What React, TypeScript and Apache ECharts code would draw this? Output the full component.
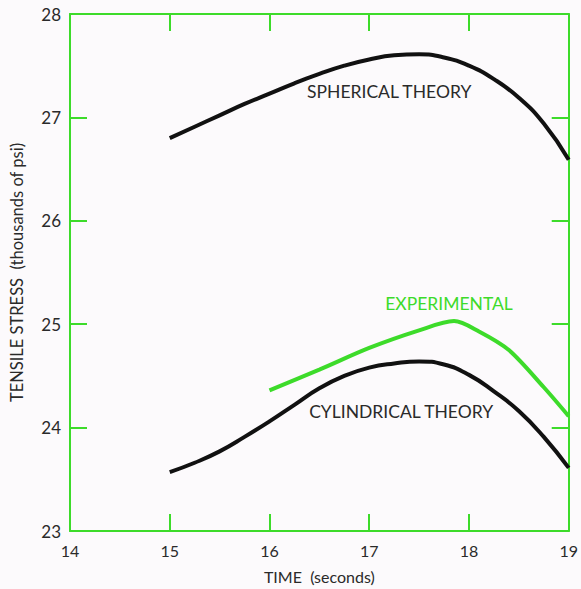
import React, { useEffect, useRef } from "react";
import * as echarts from "echarts";

const timeSpherical = [15, 15.25, 15.5, 15.75, 16, 16.25, 16.5, 16.75, 17, 17.25, 17.5, 17.75, 18, 18.25, 18.5, 18.75, 19];
const spherical = [26.8, 26.91, 27.02, 27.13, 27.23, 27.33, 27.42, 27.5, 27.56, 27.6, 27.61, 27.58, 27.5, 27.37, 27.19, 26.94, 26.59];
const cylindrical = [23.57, 23.66, 23.77, 23.91, 24.06, 24.22, 24.38, 24.5, 24.58, 24.62, 24.64, 24.61, 24.51, 24.35, 24.16, 23.91, 23.61];
const timeExperimental = [16, 16.5, 17, 17.5, 17.85, 18.1, 18.4, 18.75, 19];
const experimental = [24.36, 24.56, 24.77, 24.94, 25.03, 24.93, 24.75, 24.39, 24.11];

const xTicks = [14, 15, 16, 17, 18, 19];
const yTicks = [23, 24, 25, 26, 27, 28];

const labelSpherical = { text: "SPHERICAL THEORY", x: 17.2, y: 27.25 };
const labelExperimental = { text: "EXPERIMENTAL", x: 17.8, y: 25.2 };
const labelCylindrical = { text: "CYLINDRICAL THEORY", x: 17.32, y: 24.16 };

const GREEN = "#3ddb2a";
const DARK = "#2a2a2a";
const FONT = "Lato, 'Open Sans', sans-serif";

function textMark(l: { text: string; x: number; y: number }, color: string) {
  return {
    symbol: "circle",
    symbolSize: 0,
    silent: true,
    data: [
      {
        coord: [l.x, l.y],
        label: {
          show: true,
          position: "inside",
          formatter: l.text,
          color,
          fontFamily: FONT,
          fontSize: 17.5,
        },
      },
    ],
  };
}

export default function App() {
  const ref = useRef<HTMLDivElement>(null);
  useEffect(() => {
    if (!ref.current) return;
    const chart = echarts.init(ref.current, undefined, { renderer: "svg" });
    const axisCommon = {
      type: "value",
      min: 14,
      max: 19,
      interval: 1,
      axisLine: { show: true, onZero: false, lineStyle: { color: GREEN, width: 2 } },
      axisTick: { show: true, inside: true, length: 17, lineStyle: { color: GREEN, width: 2 } },
      splitLine: { show: false },
    };
    const yCommon = {
      type: "value",
      min: 23,
      max: 28,
      interval: 1,
      axisLine: { show: true, onZero: false, lineStyle: { color: GREEN, width: 2 } },
      axisTick: { show: true, inside: true, length: 17, lineStyle: { color: GREEN, width: 2 } },
      splitLine: { show: false },
    };
    chart.setOption({
      animation: false,
      backgroundColor: "#fcfafc",
      grid: { left: 62, top: 14, right: 6, bottom: 56, containLabel: false },
      xAxis: [
        {
          ...axisCommon,
          position: "bottom",
          name: "TIME  (seconds)",
          nameLocation: "middle",
          nameGap: 37,
          nameTextStyle: { color: DARK, fontFamily: FONT, fontSize: 16 },
          axisLabel: {
            color: DARK,
            fontFamily: FONT,
            fontSize: 16,
            margin: 11,
            formatter: (v: number) => (xTicks.includes(v) ? String(v) : ""),
          },
        },
        { ...axisCommon, position: "top", axisLabel: { show: false } },
      ],
      yAxis: [
        {
          ...yCommon,
          position: "left",
          name: "TENSILE STRESS  (thousands of psi)",
          nameLocation: "middle",
          nameGap: 45,
          nameRotate: 90,
          nameTextStyle: { color: DARK, fontFamily: FONT, fontSize: 16.5 },
          axisLabel: {
            color: DARK,
            fontFamily: FONT,
            fontSize: 17,
            margin: 9,
            formatter: (v: number) => (yTicks.includes(v) ? String(v) : ""),
          },
        },
        { ...yCommon, position: "right", axisLabel: { show: false } },
      ],
      series: [
        {
          name: "Spherical Theory",
          type: "line",
          data: timeSpherical.map((t, i) => [t, spherical[i]]),
          smooth: 0.5,
          showSymbol: false,
          lineStyle: { color: "#111", width: 4 },
          markPoint: textMark(labelSpherical, DARK),
        },
        {
          name: "Cylindrical Theory",
          type: "line",
          data: timeSpherical.map((t, i) => [t, cylindrical[i]]),
          smooth: 0.5,
          showSymbol: false,
          lineStyle: { color: "#111", width: 4 },
          markPoint: textMark(labelCylindrical, DARK),
        },
        {
          name: "Experimental",
          type: "line",
          data: timeExperimental.map((t, i) => [t, experimental[i]]),
          smooth: 0.3,
          showSymbol: false,
          lineStyle: { color: GREEN, width: 4 },
          markPoint: textMark(labelExperimental, GREEN),
        },
      ],
    });
    return () => chart.dispose();
  }, []);
  return (
    <div
      ref={ref}
      style={{ position: "fixed", left: 0, top: 0, width: 581, height: 589 }}
    />
  );
}
